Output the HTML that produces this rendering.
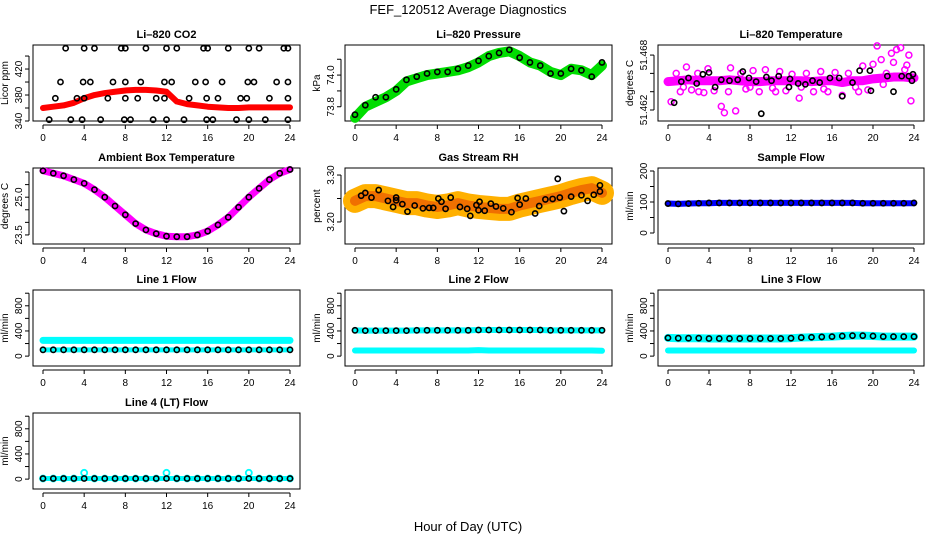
<!DOCTYPE html>
<html><head><meta charset="utf-8"><style>
html,body{margin:0;padding:0;background:#fff;}
svg{display:block;font-family:"Liberation Sans",sans-serif;}
</style></head><body>
<svg id="chart" width="936" height="540" viewBox="0 0 936 540" xmlns="http://www.w3.org/2000/svg">
<text x="468" y="14" text-anchor="middle" font-size="13">FEF_120512  Average Diagnostics</text>
<text x="468" y="531" text-anchor="middle" font-size="13">Hour of Day (UTC)</text>
</svg>
<script>
// ---- data ----
const hours = [0,1,2,3,4,5,6,7,8,9,10,11,12,13,14,15,16,17,18,19,20,21,22,23,24];
const xTicks = [0,4,8,12,16,20,24];

const co2Band = [360,362,364,368,375,380,383,385,387,388,388,387,385,370,366,364,362,361,360,360,361,361,361,361,361];
const co2PtsH = [2.2,4,5,7.6,8,10,12,13,15.6,16,18,20,21,23.4,23.8, 1.7,3.9,4.6,6.8,8,9.5,11.8,12.5,14.8,15.8,17.4,19.9,20.5,22.7,23.8, 1.2,3.3,4,6.3,8,9.2,11,11.8,14.2,15.9,17,19.2,19.8,22,23.8, 0.6,2.7,3.8,5.6,7.9,8.5,10.7,12,13.7,15.9,16.5,18.8,20,21.6,23.8];
const co2PtsV = [452,452,452,452,452,452,452,452,452,452,452,452,452,452,452, 400,400,400,400,400,400,400,400,400,400,400,400,400,400,400, 375,375,375,375,375,375,375,375,375,375,375,375,375,375,375, 342,342,342,342,342,342,342,342,342,342,342,342,342,342,342];

const presBand = [73.73,73.80,73.83,73.86,73.90,73.96,73.98,74.00,74.01,74.02,74.03,74.05,74.08,74.12,74.14,74.15,74.12,74.08,74.06,74.02,74.00,74.04,74.03,74.00,74.06];
const presPts = [73.75,73.81,73.86,73.86,73.91,73.97,73.99,74.01,74.02,74.02,74.04,74.06,74.09,74.12,74.14,74.16,74.11,74.08,74.06,74.01,74.01,74.04,74.03,73.99,74.08];

const tempBand = [51.4651,51.4652,51.4653,51.4652,51.4652,51.4652,51.4653,51.4652,51.4651,51.4651,51.4652,51.4652,51.4652,51.4652,51.4651,51.4652,51.4652,51.4650,51.4652,51.4652,51.4654,51.4655,51.4656,51.4656,51.4655];
const tempScatH = [0.3,0.8,1.2,1.8,2.3,2.9,3.5,3.9,4.5,5.2,5.5,6.1,6.6,7.1,7.6,8.3,8.9,9.5,10.2,10.9,11.5,12.1,12.8,13.5,14.2,14.9,15.6,16.3,17.0,17.6,18.3,19.0,19.5,20.0,20.4,20.8,21.3,21.8,22.3,22.7,23.1,23.5,23.7,1.5,3.0,5.9,8.0,10.5,13.0,15.2,18.6,21.0,22.0,23.3];
const tempScatV = [51.4629,51.4660,51.4640,51.4667,51.4642,51.4660,51.4639,51.4665,51.4641,51.4624,51.4617,51.4666,51.4619,51.4660,51.4643,51.4663,51.4640,51.4664,51.4644,51.4662,51.4641,51.4659,51.4633,51.4660,51.4640,51.4662,51.4640,51.4661,51.4636,51.4660,51.4645,51.4668,51.4642,51.4670,51.4690,51.4675,51.4660,51.4682,51.4686,51.4688,51.4664,51.4680,51.4630,51.4645,51.4640,51.4640,51.4645,51.4640,51.4645,51.4643,51.4640,51.4648,51.4672,51.4669];
const tempPtsH = [0.6,1.3,2,2.8,3.4,4,4.6,5.2,6,6.8,7.3,7.9,8.6,9.1,9.6,10.1,10.8,11.8,11.9,12.7,13.4,14.1,14.8,15.8,16.7,17,18,18.7,19.7,19.8,21.4,22,22.8,23.5,23.8,23.9];
const tempPtsV = [51.4628,51.4651,51.4655,51.4649,51.4659,51.4661,51.4645,51.4653,51.4652,51.4653,51.4662,51.4655,51.4651,51.4616,51.4656,51.4652,51.4657,51.4645,51.4654,51.4649,51.4648,51.4652,51.4650,51.4655,51.4655,51.4635,51.4650,51.4663,51.4663,51.4641,51.4657,51.4640,51.4657,51.4657,51.4652,51.4659];

const ambBand = [26.05,25.95,25.85,25.7,25.55,25.3,25.0,24.65,24.3,23.95,23.7,23.55,23.45,23.43,23.43,23.5,23.65,23.9,24.2,24.6,25.0,25.35,25.7,25.95,26.1];

const rhBand = [3.245,3.255,3.255,3.25,3.245,3.24,3.24,3.235,3.232,3.235,3.24,3.235,3.232,3.23,3.228,3.228,3.235,3.24,3.245,3.25,3.255,3.262,3.268,3.272,3.262];
const rhPtsH = [0.6,1,1.6,2.3,3.2,3.7,4,4,4.6,5.1,5.8,6.6,7.2,7.6,8.1,8.4,8.8,9.3,10.2,10.9,11.2,11.8,12,12.1,12.6,13.2,13.7,14.4,15.2,15.8,16.0,16.6,17.5,17.9,18.5,19.2,19.7,19.9,20.3,21.0,22.0,22.6,23.2,23.8,23.8];
const rhPtsV = [3.256,3.262,3.252,3.268,3.245,3.232,3.252,3.246,3.238,3.222,3.235,3.229,3.23,3.23,3.25,3.243,3.228,3.252,3.232,3.228,3.213,3.236,3.225,3.243,3.224,3.239,3.233,3.229,3.221,3.251,3.237,3.25,3.218,3.234,3.248,3.249,3.292,3.252,3.223,3.254,3.257,3.245,3.258,3.278,3.265];

const sampBand = [95,94,95,96,96,97,97,97,97,97,97,97,97,97,97,97,97,97,97,96,96,96,96,96,96];
const sampPts = [95,94,95,96,97,97,97,97,97,97,97,97,97,97,97,97,97,97,97,96,96,96,96,96,97];

const l1Cyan = [250,250,250,250,250,250,250,250,250,250,250,250,250,250,250,250,250,250,250,250,250,250,250,250,250];
const l1Black = [100,100,100,100,100,100,100,100,100,100,100,100,100,100,100,100,100,100,100,100,100,100,100,100,100];
const l2Cyan = [90,90,90,90,90,90,90,90,90,90,90,90,95,90,90,90,90,90,90,90,90,90,90,90,85];
const l2Black = [410,405,405,405,405,405,410,410,410,410,410,410,415,415,415,415,415,415,415,410,410,410,410,410,410];
const l3Cyan = [90,90,90,90,90,90,90,90,90,90,90,90,90,90,90,90,90,90,90,90,90,90,90,90,90];
const l3Black = [290,285,285,285,280,280,280,280,280,280,280,280,285,295,300,305,310,320,325,325,320,310,310,310,310];
const l4Cyan = [10,10,10,10,100,10,10,10,10,10,10,10,100,10,10,10,10,10,10,10,100,10,10,10,10];
const l4Black = [10,10,10,10,10,10,10,10,10,10,10,10,10,10,10,10,10,10,10,10,10,10,10,10,10];

// ---- drawing ----
const svg = document.getElementById('chart');
const NS = 'http://www.w3.org/2000/svg';
function mk(tag, attrs, parent){ const e=document.createElementNS(NS,tag); for(const k in attrs) e.setAttribute(k,attrs[k]); (parent||svg).appendChild(e); return e; }
const colL=[33,345,658], colR=[300,612,924], rowT=[45,168,290,413], H=76;

function panel(key,col,row,title,ylab,ymin,ymax,ticks,labs){
  const L=colL[col],R=colR[col],T=rowT[row],B=T+H;
  const g=mk('g',{});
  
  
  const p={g,L,R,T,B,
    x:h=>L+10+(R-L-20)*h/24,
    y:v=>B-(v-ymin)/(ymax-ymin)*H};
  const t=mk('text',{x:(L+R)/2,y:T-7,'text-anchor':'middle','font-size':11,'font-weight':'bold'},g); t.textContent=title;
  
  
  const box=mk('rect',{x:L,y:T,width:R-L,height:H,fill:'none',stroke:'#000','stroke-width':1},g);
  
  
  mk('line',{x1:p.x(0),x2:p.x(24),y1:B+4,y2:B+4,stroke:'#000'},g);
  xTicks.forEach(h=>{
    mk('line',{x1:p.x(h),x2:p.x(h),y1:B+4,y2:B+8,stroke:'#000'},g);
    const tl=mk('text',{x:p.x(h),y:B+20,'text-anchor':'middle','font-size':10},g); tl.textContent=h;
    
    
  });
  mk('line',{x1:L-4,x2:L-4,y1:p.y(ticks[0]),y2:p.y(ticks[ticks.length-1]),stroke:'#000'},g);
  ticks.forEach(v=>{
    mk('line',{x1:L-8,x2:L-4,y1:p.y(v),y2:p.y(v),stroke:'#000'},g);
  });
  labs.forEach(s=>{
    const yy=p.y(parseFloat(s));
    const tl=mk('text',{x:L-11,y:yy,'text-anchor':'middle','font-size':10,transform:`rotate(-90 ${L-11} ${yy})`},g); tl.textContent=s;
    
    
  });
  const yl=mk('text',{x:L-25,y:(T+B)/2,'text-anchor':'middle','font-size':10,transform:`rotate(-90 ${L-25} ${(T+B)/2})`},g); yl.textContent=ylab;
  
  
  return p;
}
function band(p,hs,vs,color,w,name){
  const pts=hs.map((h,i)=>p.x(h)+','+p.y(vs[i])).join(' ');
  const pl=mk('polyline',{points:pts,fill:'none',stroke:color,'stroke-width':w,'stroke-linejoin':'round','stroke-linecap':'round'},p.g);
  
  
}
function dots(p,hs,vs,color,name,r,sw){
  hs.forEach((h,i)=>{
    const c=mk('circle',{cx:p.x(h),cy:p.y(vs[i]),r:r||2.6,fill:'none',stroke:color,'stroke-width':sw||1.6},p.g);
    
    
  });
}
function rng(a,b,s){const o=[];for(let v=a;v<=b+1e-9;v+=s)o.push(+v.toFixed(4));return o;}

let p;
p=panel('co2',0,0,'Li\u2013820 CO2','Licor ppm',340,457,rng(340,440,20),['340','380','420']);
band(p,hours,co2Band,'#ff0000',6,'co2-band');
dots(p,co2PtsH,co2PtsV,'#000','co2-point');

p=panel('pressure',1,0,'Li\u2013820 Pressure','kPa',73.71,74.19,rng(73.8,74.1,0.1),['73.8','74.0']);
band(p,hours,presBand,'#00dd00',10,'pressure-band');
dots(p,hours,presPts,'#000','pressure-point');

p=panel('temperature',2,0,'Li\u2013820 Temperature','degrees C',51.4608,51.4691,rng(51.462,51.468,0.002),['51.462','51.468']);
band(p,hours,tempBand,'#ff00ff',9,'temperature-band');
dots(p,tempScatH,tempScatV,'#ff00ff','temperature-scatter',3,1.5);
dots(p,tempPtsH,tempPtsV,'#000','temperature-point');

p=panel('ambient',0,1,'Ambient Box Temperature','degrees C',23.14,26.16,rng(23.5,26,0.5),['23.5','25.0']);
band(p,hours,ambBand,'#ff00ff',7,'ambient-band');
dots(p,hours,ambBand,'#000','ambient-point');

p=panel('rh',1,1,'Gas Stream RH','percent',3.153,3.315,[3.20,3.25,3.30],['3.20','3.30']);
band(p,hours,rhBand,'#ffb000',24,'rh-band');
band(p,hours,rhBand,'#f07000',10,'rh-band-core');
dots(p,rhPtsH,rhPtsV,'#000','rh-point');

p=panel('sample-flow',2,1,'Sample Flow','ml/min',-35.5,209.7,[0,50,100,150,200],['0','100','200']);
band(p,hours,sampBand,'#0000ff',6,'sample-flow-band');
dots(p,hours,sampPts,'#000','sample-flow-point');

const fl=rng(0,1000,200), flL=['0','400','800'];
p=panel('line1',0,2,'Line 1 Flow','ml/min',-157,1051,fl,flL);
band(p,hours,l1Cyan,'#00ffff',7,'line1-cyan-band');
band(p,hours,l1Black,'#00ffff',5,'line1-cyan-low');
dots(p,hours,l1Black,'#000','line1-point');

p=panel('line2',1,2,'Line 2 Flow','ml/min',-157,1051,fl,flL);
band(p,hours,l2Cyan,'#00ffff',6,'line2-cyan-band');
band(p,hours,l2Black,'#00ffff',6,'line2-cyan-high');
dots(p,hours,l2Black,'#000','line2-point');

p=panel('line3',2,2,'Line 3 Flow','ml/min',-157,1051,fl,flL);
band(p,hours,l3Cyan,'#00ffff',6,'line3-cyan-band');
band(p,hours,l3Black,'#00ffff',8,'line3-cyan-high');
dots(p,hours,l3Black,'#000','line3-point');

p=panel('line4',0,3,'Line 4 (LT) Flow','ml/min',-157,1051,fl,flL);
dots(p,hours,l4Cyan,'#00ffff','line4-cyan-point',3,1.8);
band(p,hours,l4Black,'#00ffff',5,'line4-cyan-band');
dots(p,hours,l4Black,'#000','line4-point');
</script>
</body></html>
